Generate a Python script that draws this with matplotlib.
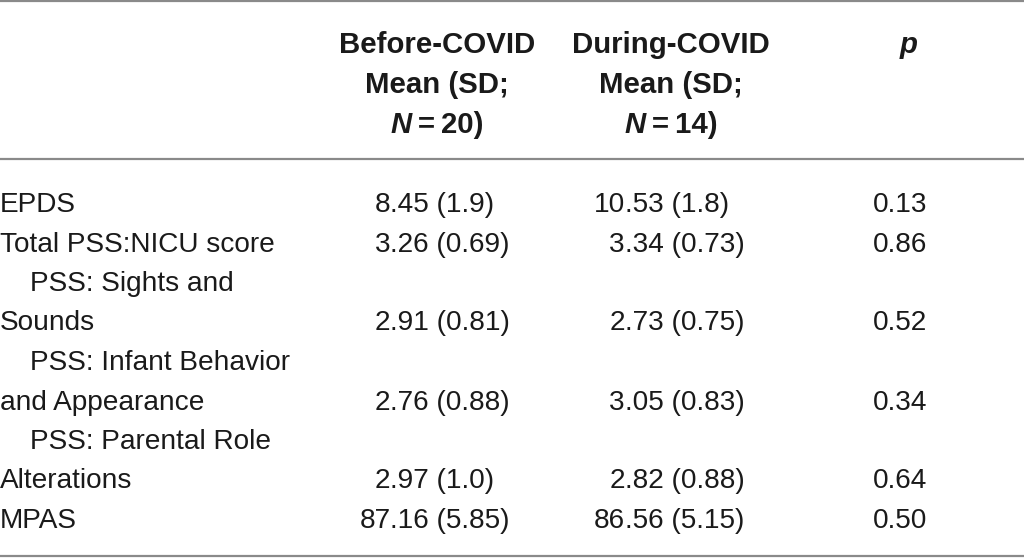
import matplotlib
matplotlib.use("Agg")
import matplotlib.pyplot as plt

plt.rcParams['font.family'] = ['Liberation Sans', 'DejaVu Sans']

# table content
row_labels = ["EPDS", "Total PSS:NICU score", "  PSS: Sights and", "Sounds",
              "  PSS: Infant Behavior", "and Appearance", "  PSS: Parental Role",
              "Alterations", "MPAS"]
before_vals = ["8.45 (1.9)", "3.26 (0.69)", "", "2.91 (0.81)", "", "2.76 (0.88)",
               "", "2.97 (1.0)", "87.16 (5.85)"]
during_vals = ["10.53 (1.8)", "3.34 (0.73)", "", "2.73 (0.75)", "", "3.05 (0.83)",
               "", "2.82 (0.88)", "86.56 (5.15)"]
p_vals = ["0.13", "0.86", "", "0.52", "", "0.34", "", "0.64", "0.50"]
headers = [("Before-COVID", "Mean (SD;", "20)"), ("During-COVID", "Mean (SD;", "14)")]

W, H = 1024, 558
fig = plt.figure(figsize=(W / 100, H / 100), dpi=100)
ax = fig.add_axes([0, 0, 1, 1])
ax.set_xlim(0, W)
ax.set_ylim(H, 0)
ax.axis("off")

fs = 20.2
hfs = 21.2
txt = "#1a1a1a"
line_col = "#8a8a8a"

# rules
for y in (1.2, 159, 556):
    ax.plot([0, W], [y, y], color=line_col, lw=1.6, solid_capstyle="butt")

# headers
col_centers = [437, 671]
hdr_base = [53, 93, 133]
fig.canvas.draw()
r = fig.canvas.get_renderer()
for cx, (l1, l2, nval) in zip(col_centers, headers):
    ax.text(cx, hdr_base[0], l1, ha="center", va="baseline", fontsize=hfs,
            fontweight="bold", color=txt)
    ax.text(cx, hdr_base[1], l2, ha="center", va="baseline", fontsize=hfs,
            fontweight="bold", color=txt)
    t1 = ax.text(0, hdr_base[2], "N", ha="left", va="baseline", fontsize=hfs,
                 fontweight="bold", fontstyle="italic", color=txt)
    t2 = ax.text(0, hdr_base[2], "\u2009=\u2009" + nval, ha="left", va="baseline",
                 fontsize=hfs, fontweight="bold", color=txt)
    w1 = t1.get_window_extent(r).width
    w2 = t2.get_window_extent(r).width
    x0 = cx - (w1 + w2) / 2
    t1.set_x(x0)
    t2.set_x(x0 + w1)
ax.text(909, hdr_base[0], "p", ha="center", va="baseline", fontsize=hfs,
        fontweight="bold", fontstyle="italic", color=txt)

# body
base0, step = 212, 39.5
dec_x = [390.5, 625]
for i, lab in enumerate(row_labels):
    y = base0 + i * step
    x = 30 if lab.startswith("  ") else 0
    ax.text(x, y, lab.strip(), ha="left", va="baseline", fontsize=fs, color=txt)
    for dx, val in zip(dec_x, (before_vals[i], during_vals[i])):
        if not val:
            continue
        ip, rest = val.split(".", 1)
        ax.text(dx, y, ip, ha="right", va="baseline", fontsize=fs, color=txt)
        ax.text(dx, y, "." + rest, ha="left", va="baseline", fontsize=fs, color=txt)
    if p_vals[i]:
        ax.text(900.5, y, p_vals[i], ha="center", va="baseline", fontsize=fs, color=txt)

fig.savefig("out.png", dpi=100, facecolor="white")
